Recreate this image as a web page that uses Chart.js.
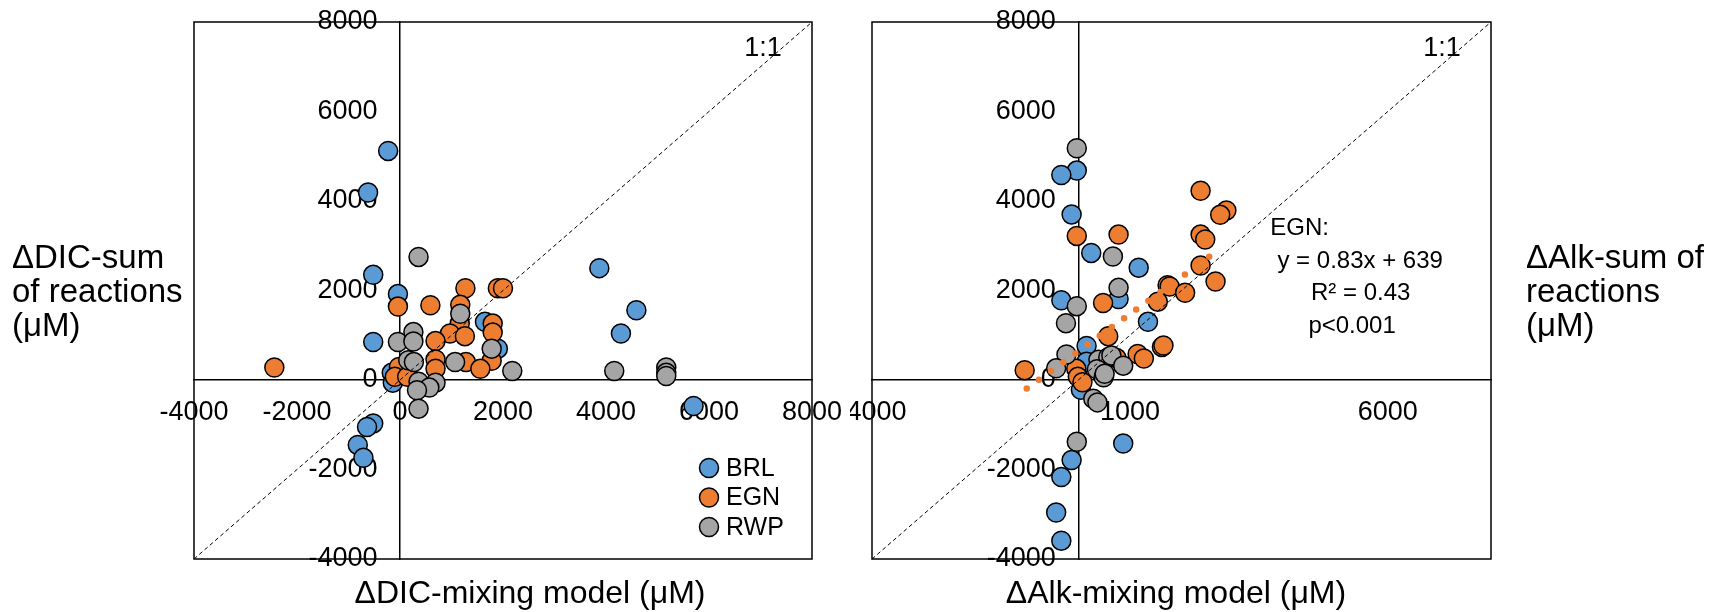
<!DOCTYPE html>
<html>
<head>
<meta charset="utf-8">
<script src="https://cdn.jsdelivr.net/npm/chart.js@4.4.1/dist/chart.umd.min.js"></script>
<style>
  body { margin: 0; background: #fff; }
  #wrap { position: relative; width: 1709px; height: 612px; }
  #dic { position: absolute; left: 0; top: 0; }
  #alk { position: absolute; left: 850px; top: 0; }
</style>
</head>
<body>
<div id="wrap">
  <canvas id="dic" width="850" height="612"></canvas>
  <canvas id="alk" width="859" height="612"></canvas>
</div>
<script>
// tick labels
var valueTicks = [-4000, -2000, 0, 2000, 4000, 6000, 8000];
var alkXTicks = [-4000, 1000, 6000];
var siteNames = ["BRL", "EGN", "RWP"];
var siteColors = ["#5B9BD5", "#ED7D31", "#A5A5A5"];

// left panel: DIC mixing model (x) vs sum of reactions (y)
var dicBrlX = [-230, -620, -520, 3870, -40, 1650, 4590, 4290, -520, 1900, -160, -140, 5700, -520, -640, -820, -710];
var dicBrlY = [5120, 4190, 2350, 2500, 1920, 1300, 1560, 1040, 850, 700, 160, -60, -580, -970, -1050, -1450, -1740];
var dicEgnX = [1270, 1900, 2000, -40, 590, 1170, 1160, 970, 1260, 1800, 1800, 690, 1780, 690, 690, 1280, 1560, -2440, -20, -100, 140];
var dicEgnY = [2050, 2050, 2050, 1640, 1670, 1680, 1260, 1040, 980, 1260, 1060, 870, 430, 460, 250, 400, 250, 280, 290, 70, 70];
var dicRwpX = [360, 1170, -40, 260, 260, 1780, 1070, 2180, 160, 270, 360, 690, 570, 330, 360, 4160, 5170, 5170, 5170];
var dicRwpY = [2750, 1480, 850, 1070, 860, 700, 400, 200, 440, 400, -40, -60, -170, -230, -640, 200, 280, 160, 90];

// right panel: Alk mixing model (x) vs sum of reactions (y)
var alkBrlX = [-30, -330, -130, 250, 1170, -330, 780, 1350, 160, 160, 50, 870, -130, -330, -430, -330];
var alkBrlY = [4680, 4580, 3700, 2840, 2510, 1780, 1810, 1300, 760, 410, -220, -1420, -1790, -2170, -2960, -3590];
var alkEgnX = [-30, 780, 2370, 2870, 2750, 2370, 2460, 2370, 2660, 1730, 1770, 2070, 1540, 480, 580, 1620, 1650, 1150, 1270, -1040, -40, -10, 80, 740];
var alkEgnY = [3220, 3250, 4230, 3790, 3690, 3250, 3140, 2560, 2200, 2120, 2090, 1950, 1750, 1720, 980, 740, 770, 580, 480, 220, 250, 70, -50, 490];
var alkRwpX = [-30, 670, 780, -30, -240, -230, 390, 580, 640, 870, -430, 360, 490, 290, 370, -30, 510];
var alkRwpY = [5180, 2760, 2060, 1650, 1270, 570, 450, 510, 550, 320, 260, 240, 60, -420, -500, -1380, 140];

// 1:1 line ends and the EGN regression line ends
var oneToOne = [-4000, 8000];
var trendX = [-1000, 2680];
var trendY = [-190, 2870];

Chart.defaults.font.family = '"Liberation Sans", Arial, sans-serif';
Chart.defaults.color = '#000';

function pts(xs, ys) {
    return xs.map(function(x, i) { return {x: x, y: ys[i]}; });
}

function siteSet(i, xs, ys) {
    return {
        label: siteNames[i],
        data: pts(xs, ys),
        backgroundColor: siteColors[i],
        borderColor: '#000',
        borderWidth: 1.5,
        pointRadius: 9.5,
        pointHoverRadius: 9.5,
        order: 3 - i
    };
}

function oneToOneSet() {
    return {
        label: '1:1',
        data: pts(oneToOne, oneToOne),
        showLine: true,
        borderColor: '#000',
        borderWidth: 1,
        borderDash: [4, 3],
        pointRadius: 0,
        order: 0
    };
}

function axis(tickValues, pos, vertical) {
    return {
        type: 'linear',
        min: -4000,
        max: 8000,
        position: pos,
        grid: { display: false, drawTicks: false },
        border: { color: '#000', width: 1.5 },
        ticks: {
            font: { size: 27 },
            padding: 16,
            autoSkip: false,
            maxRotation: 0,
            // labels of an axis placed at 0 sit right on the line, so pad them
            callback: function(v) { return vertical ? v + '   ' : String(v); }
        },
        afterBuildTicks: function(scale) {
            scale.ticks = tickValues.map(function(v) { return {value: v}; });
        },
        afterFit: function(scale) {
            // keep the plot area where layout.padding puts it
            scale.paddingLeft = scale.paddingRight = scale.paddingTop = scale.paddingBottom = 0;
        }
    };
}

// frame, free text and the small legend
var extras = {
    id: 'extras',
    afterDraw: function(chart, args, opts) {
        var ctx = chart.ctx, a = chart.chartArea;
        ctx.save();
        ctx.strokeStyle = '#000';
        ctx.lineWidth = 1.5;
        ctx.strokeRect(a.left, a.top, a.right - a.left, a.bottom - a.top);
        ctx.fillStyle = '#000';
        ctx.textBaseline = 'middle';
        (opts.texts || []).forEach(function(t) {
            ctx.font = t.size + 'px "Liberation Sans", Arial, sans-serif';
            ctx.textAlign = t.align || 'left';
            var x = t.atValue ? chart.scales.x.getPixelForValue(t.x) : t.x;
            var y = t.atValue ? chart.scales.y.getPixelForValue(t.y) : t.y;
            ctx.fillText(t.text, x, y);
        });
        if (opts.legend) {
            ctx.font = '25px "Liberation Sans", Arial, sans-serif';
            ctx.textAlign = 'left';
            chart.data.datasets.filter(function(d) { return siteNames.indexOf(d.label) >= 0; })
                .forEach(function(d, i) {
                    var cx = a.right - 103, cy = a.bottom - 91 + i * 29.5;
                    ctx.beginPath();
                    ctx.arc(cx, cy, 9.5, 0, Math.PI * 2);
                    ctx.fillStyle = d.backgroundColor;
                    ctx.fill();
                    ctx.lineWidth = 1.5;
                    ctx.stroke();
                    ctx.fillStyle = '#000';
                    ctx.fillText(d.label, cx + 17, cy + 1);
                });
        }
        ctx.restore();
    }
};

function panel(id, sets, xTicks, pad, texts, legend) {
    return new Chart(document.getElementById(id), {
        type: 'scatter',
        data: { datasets: sets },
        options: {
            responsive: false,
            animation: false,
            events: [],
            layout: { padding: pad },
            scales: {
                x: axis(xTicks, { y: 0 }, false),
                y: axis(valueTicks, { x: 0 }, true)
            },
            plugins: {
                legend: { display: false },
                tooltip: { enabled: false },
                extras: { texts: texts, legend: legend }
            }
        },
        plugins: [extras]
    });
}

// DIC panel
panel('dic', [
    siteSet(0, dicBrlX, dicBrlY),
    siteSet(1, dicEgnX, dicEgnY),
    siteSet(2, dicRwpX, dicRwpY),
    oneToOneSet()
], valueTicks, { left: 194, right: 38, top: 22, bottom: 53 }, [
    { text: '\u0394DIC-sum', x: 12, y: 259, size: 33 },
    { text: 'of reactions', x: 12, y: 293, size: 33 },
    { text: '(\u03bcM)', x: 12, y: 327, size: 33 },
    { text: '\u0394DIC-mixing model (\u03bcM)', x: 530, y: 594, size: 32, align: 'center' },
    { text: '1:1', x: 7050, y: 7400, size: 27, align: 'center', atValue: true }
], true);

// Alk panel
panel('alk', [
    siteSet(0, alkBrlX, alkBrlY),
    siteSet(1, alkEgnX, alkEgnY),
    siteSet(2, alkRwpX, alkRwpY),
    oneToOneSet(),
    {
        label: 'EGN fit',
        data: pts(trendX, trendY),
        showLine: true,
        borderColor: siteColors[1],
        borderWidth: 6.5,
        borderDash: [0, 15],
        borderCapStyle: 'round',
        pointRadius: 0,
        order: 0
    }
], alkXTicks, { left: 22, right: 218, top: 22, bottom: 53 }, [
    { text: '\u0394Alk-sum of', x: 676, y: 259, size: 33 },
    { text: 'reactions', x: 676, y: 293, size: 33 },
    { text: '(\u03bcM)', x: 676, y: 327, size: 33 },
    { text: '\u0394Alk-mixing model (\u03bcM)', x: 326, y: 594, size: 32, align: 'center' },
    { text: '1:1', x: 7050, y: 7400, size: 27, align: 'center', atValue: true },
    { text: 'EGN:', x: 3720, y: 3380, size: 24, atValue: true },
    { text: 'y = 0.83x + 639', x: 3860, y: 2660, size: 24, atValue: true },
    { text: 'R\u00b2 = 0.43', x: 4510, y: 1930, size: 24, atValue: true },
    { text: 'p<0.001', x: 4460, y: 1190, size: 24, atValue: true }
], false);
</script>
</body>
</html>
